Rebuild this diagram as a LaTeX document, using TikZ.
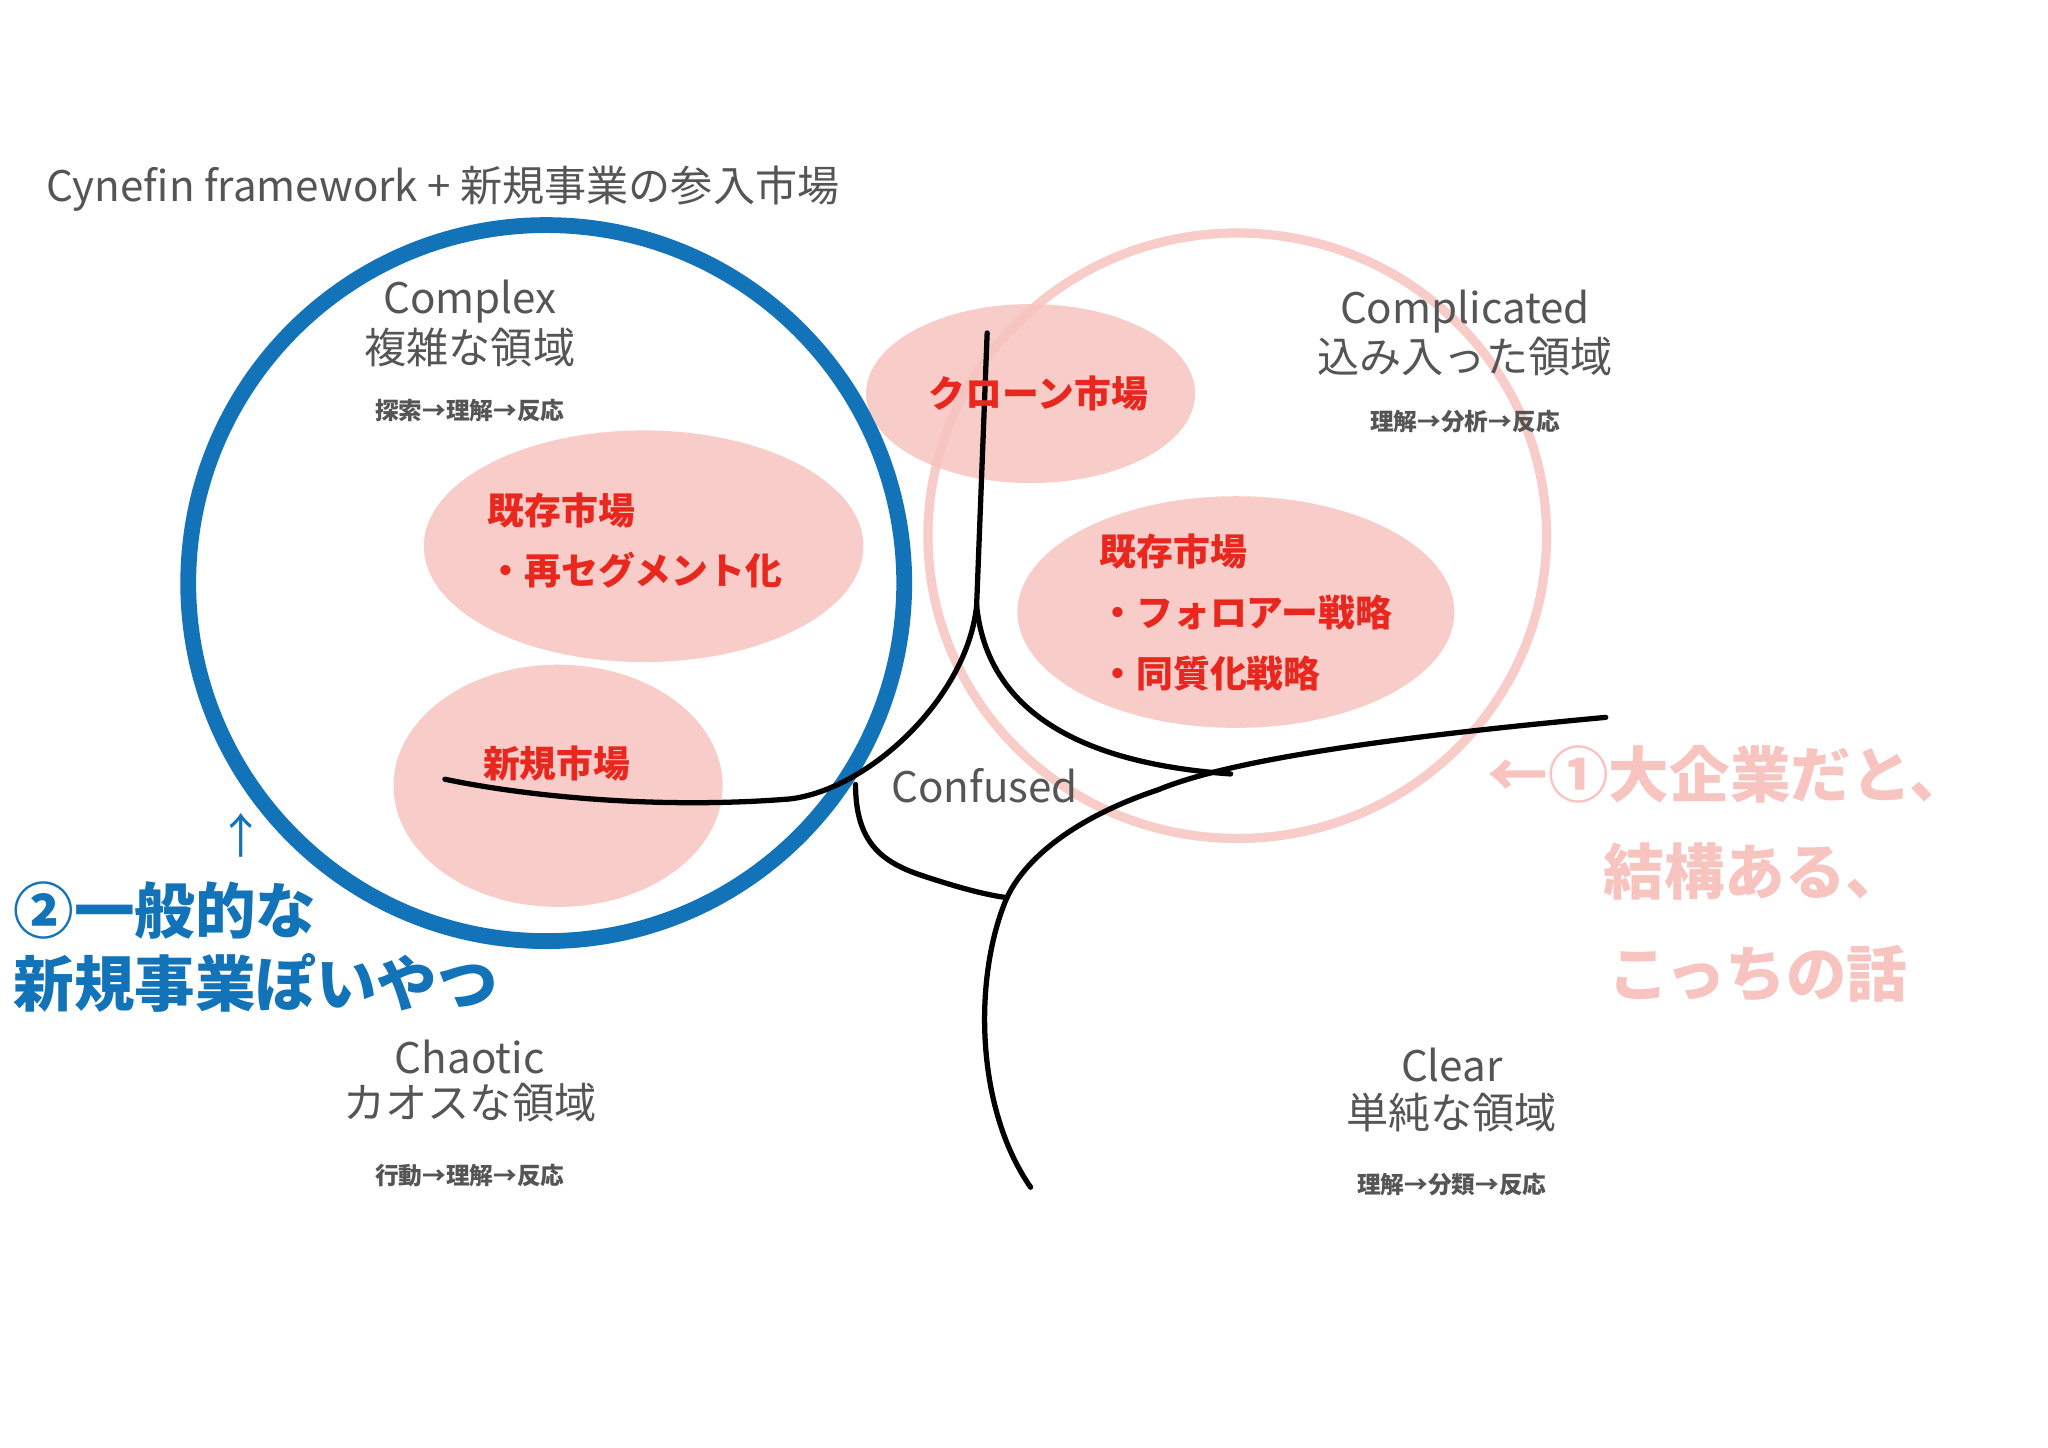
\documentclass[tikz,border=0pt]{standalone}
\usepackage{fontspec}
\setmainfont{Noto Sans CJK JP}
\definecolor{gr}{HTML}{555555}
\definecolor{bl}{HTML}{1273B9}
\definecolor{pk}{HTML}{F7C4C0}
\definecolor{rd}{HTML}{E8281E}
\begin{document}
\begin{tikzpicture}[x=0.5pt,y=-0.5pt,
  lbl/.style={text=gr,font=\fontsize{16}{18}\selectfont,inner sep=0},
  sml/.style={text=gr,font=\fontsize{9}{11}\selectfont\bfseries,inner sep=0},
  red/.style={text=rd,font=\fontsize{14}{16}\selectfont\bfseries,inner sep=0,anchor=west},
  blob/.style={fill=pk,fill opacity=0.85,draw=none},
  big/.style={font=\fontsize{23}{26}\selectfont\bfseries,inner sep=0,anchor=west},
  ln/.style={line width=2pt,black,line cap=round}]
\useasboundingbox (0,0) rectangle (1556,1100);
\fill[white] (0,0) rectangle (1556,1100);
% blobs
\fill[blob] (783,299) ellipse [x radius=125,y radius=68];
\fill[blob] (489,415) ellipse [x radius=167,y radius=88];
\fill[blob] (424,597) ellipse [x radius=125,y radius=92];
\fill[blob] (939,465) ellipse [x radius=166,y radius=88];
% circles
\draw[bl,line width=6pt] (415,443) circle [radius=272];
\draw[pk,line width=3.5pt,opacity=0.85] (940,407) ellipse [x radius=235,y radius=230];
% lines
\coordinate (t) at (750,253);
\coordinate (j) at (742,460);
\coordinate (l) at (338,592);
\coordinate (m) at (935,588);
\coordinate (r) at (1220,545);
\coordinate (k) at (765,682);
\coordinate (b) at (783,902);
\coordinate (c) at (650,596);
\draw[ln] (t) -- (j);
\draw[ln] (j) .. controls (735,530) and (660,600) .. (600,607) .. controls (500,615) and (400,605) .. (l);
\draw[ln] (j) .. controls (750,540) and (820,580) .. (m);
\draw[ln] (r) .. controls (1080,558) and (940,575) .. (880,600) .. controls (820,620) and (780,650) .. (k);
\draw[ln] (k) .. controls (740,740) and (740,840) .. (b);
\draw[ln] (c) .. controls (650,640) and (670,655) .. (700,665) .. controls (730,675) and (750,680) .. (k);
% texts
\node[text=gr,font=\fontsize{16}{18}\selectfont,anchor=west,inner sep=0] (title) at (35,143) {Cynefin framework + 新規事業の参入市場};
\node[lbl] (cx) at (357,229) {Complex};
\node[lbl] (cx2) at (357,264) {複雑な領域};
\node[sml] (cx3) at (357,312) {探索→理解→反応};
\node[lbl] (cp) at (1113,237) {Complicated};
\node[lbl] (cp2) at (1113,271) {込み入った領域};
\node[sml] (cp3) at (1113,320) {理解→分析→反応};
\node[lbl] (ch) at (357,803) {Chaotic};
\node[lbl] (ch2) at (357,838) {カオスな領域};
\node[sml] (ch3) at (357,893) {行動→理解→反応};
\node[lbl] (cl) at (1103,809) {Clear};
\node[lbl] (cl2) at (1103,845) {単純な領域};
\node[sml] (cl3) at (1103,900) {理解→分類→反応};
\node[lbl] (cf) at (748,597) {Confused};
\node[red,anchor=center] (r1) at (789,299) {クローン市場};
\node[red] (r2) at (370,388) {既存市場};
\node[red] (r3) at (370,433) {・再セグメント化};
\node[red] (r4) at (835,419) {既存市場};
\node[red] (r5) at (835,465) {・フォロアー戦略};
\node[red] (r6) at (835,512) {・同質化戦略};
\node[red,anchor=center] (r7) at (423,580) {新規市場};
\node[text=bl,font=\fontsize{18}{20}\selectfont,inner sep=0] (ar) at (183,635) {↑};
\node[big,text=bl] (b1) at (10,692) {②一般的な};
\node[big,text=bl] (b2) at (10,747) {新規事業ぽいやつ};
\node[big,text=pk] (p1) at (1130,588) {←①大企業だと、};
\node[big,text=pk] (p2) at (1218,662) {結構ある、};
\node[big,text=pk] (p3) at (1222,740) {こっちの話};
\end{tikzpicture}
\end{document}
